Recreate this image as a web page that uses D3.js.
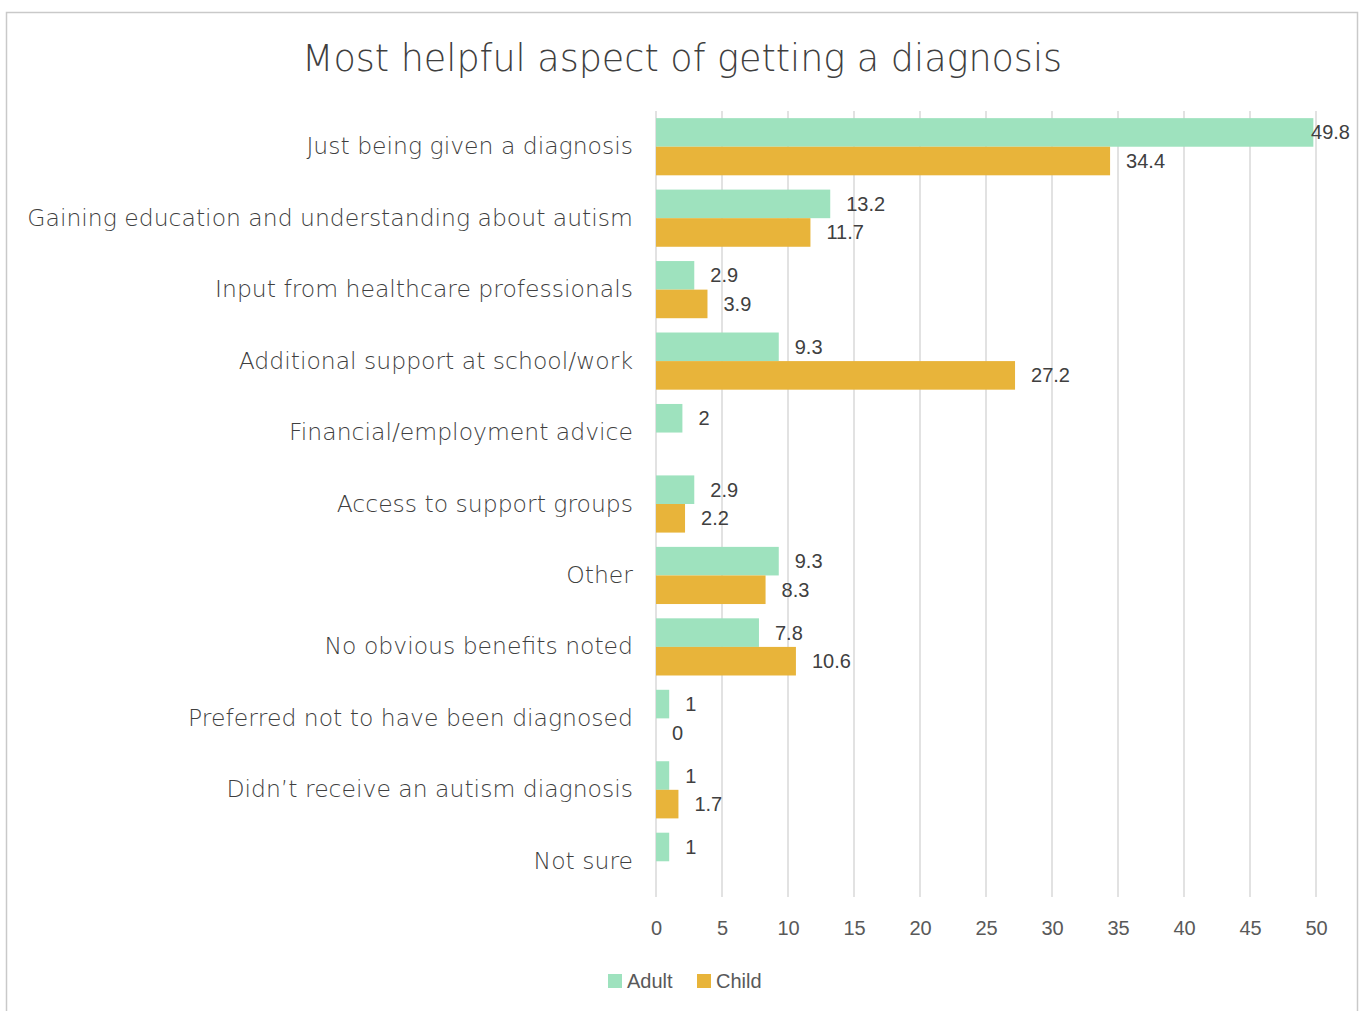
<!DOCTYPE html>
<html>
<head>
<meta charset="utf-8">
<script src="https://cdn.jsdelivr.net/npm/d3@7"></script>
<style>
  body { margin: 0; background: #fff; }
</style>
</head>
<body>
<div id="chart"></div>
<script>
// Data
const categories = [
  "Just being given a diagnosis",
  "Gaining education and understanding about autism",
  "Input from healthcare professionals",
  "Additional support at school/work",
  "Financial/employment advice",
  "Access to support groups",
  "Other",
  "No obvious benefits noted",
  "Preferred not to have been diagnosed",
  "Didn\u2019t receive an autism diagnosis",
  "Not sure"
];
const adultValues = [49.8, 13.2, 2.9, 9.3, 2, 2.9, 9.3, 7.8, 1, 1, 1];
// null = no value reported for that category
const childValues = [34.4, 11.7, 3.9, 27.2, null, 2.2, 8.3, 10.6, 0, 1.7, null];
const seriesNames = ["Adult", "Child"];
const seriesColors = ["#9ee2be", "#e8b43a"];
const xTicks = [0, 5, 10, 15, 20, 25, 30, 35, 40, 45, 50];

const width = 1362, height = 1011;
const margin = { top: 111, bottom: 114, left: 656, right: 46 };

const labelFont = "'DejaVu Sans', sans-serif";
const numFont = "'Liberation Sans', Arial, sans-serif";

let svg = d3.select("#chart")
  .append("svg")
  .attr("width", width)
  .attr("height", height)
  .style("display", "block");

// chart frame
svg.append("rect")
  .attr("x", 6.5)
  .attr("y", 12.5)
  .attr("width", 1351)
  .attr("height", 1010)
  .attr("fill", "none")
  .attr("stroke", "#c9c9c9")
  .attr("stroke-width", 1.5);

// title
svg.append("text")
  .attr("x", 682)
  .attr("y", 71)
  .attr("text-anchor", "middle")
  .style("font-family", labelFont)
  .style("font-weight", 200)
  .style("font-size", "36.5px")
  .style("fill", "#3f3f3f")
  .text("Most helpful aspect of getting a diagnosis");

// scales
let xScale = d3.scaleLinear()
  .domain([0, 50])
  .range([margin.left, width - margin.right]);

let yScale = d3.scaleBand()
  .domain(categories)
  .range([margin.top, height - margin.bottom]);

let ySub = d3.scaleBand()
  .domain(seriesNames)
  .range([0, yScale.bandwidth()])
  .paddingOuter(0.25);

// gridlines
svg.append("g")
  .selectAll("line")
  .data(xTicks)
  .join("line")
  .attr("x1", d => xScale(d))
  .attr("x2", d => xScale(d))
  .attr("y1", margin.top)
  .attr("y2", height - margin.bottom)
  .attr("stroke", "#d9d9d9")
  .attr("stroke-width", 1.5);

// x axis (labels only)
let xAxis = svg.append("g")
  .attr("transform", `translate(0,${height - margin.bottom})`)
  .call(d3.axisBottom(xScale).tickValues(xTicks).tickSize(0).tickPadding(24));
xAxis.select(".domain").remove();
xAxis.selectAll("text")
  .style("font-family", numFont)
  .style("font-size", "20px")
  .style("fill", "#595959");

// y axis (labels only)
let yAxis = svg.append("g")
  .attr("transform", `translate(${margin.left},0)`)
  .call(d3.axisLeft(yScale).tickSize(0).tickPadding(23));
yAxis.select(".domain").remove();
yAxis.selectAll("text")
  .style("font-family", labelFont)
  .style("font-weight", 200)
  .style("font-size", "23.5px")
  .style("fill", "#3f3f3f");

// flatten rows
const rows = [];
categories.forEach((c, i) => {
  rows.push({ cat: c, series: "Adult", value: adultValues[i] });
  rows.push({ cat: c, series: "Child", value: childValues[i] });
});
const color = d3.scaleOrdinal().domain(seriesNames).range(seriesColors);

// bars
svg.append("g")
  .selectAll("rect")
  .data(rows.filter(d => d.value !== null))
  .join("rect")
  .attr("x", xScale(0))
  .attr("y", d => yScale(d.cat) + ySub(d.series))
  .attr("width", d => xScale(d.value) - xScale(0))
  .attr("height", ySub.bandwidth())
  .attr("fill", d => color(d.series));

// data labels
let labels = svg.append("g")
  .selectAll("text")
  .data(rows.filter(d => d.value !== null))
  .join("text")
  .attr("x", d => xScale(d.value) + 16)
  .attr("y", d => yScale(d.cat) + ySub(d.series) + ySub.bandwidth() / 2)
  .attr("dy", "0.35em")
  .style("font-family", numFont)
  .style("font-size", "20px")
  .style("fill", "#404040")
  .text(d => d.value);

// keep labels inside the chart area (Excel pushes the 49.8 label back)
labels.each(function() {
  const w = this.getComputedTextLength();
  const x = +this.getAttribute("x");
  if (x + w > 1350) this.setAttribute("x", 1350 - w);
});

// legend
const legend = svg.append("g")
  .selectAll("g")
  .data(seriesNames)
  .join("g")
  .attr("transform", (d, i) => `translate(${608 + i * 89},974)`);

legend.append("rect")
  .attr("width", 14)
  .attr("height", 14)
  .attr("fill", d => color(d));

legend.append("text")
  .attr("x", 19)
  .attr("y", 7)
  .attr("dy", "0.35em")
  .style("font-family", numFont)
  .style("font-size", "20px")
  .style("fill", "#595959")
  .text(d => d);
</script>
</body>
</html>
